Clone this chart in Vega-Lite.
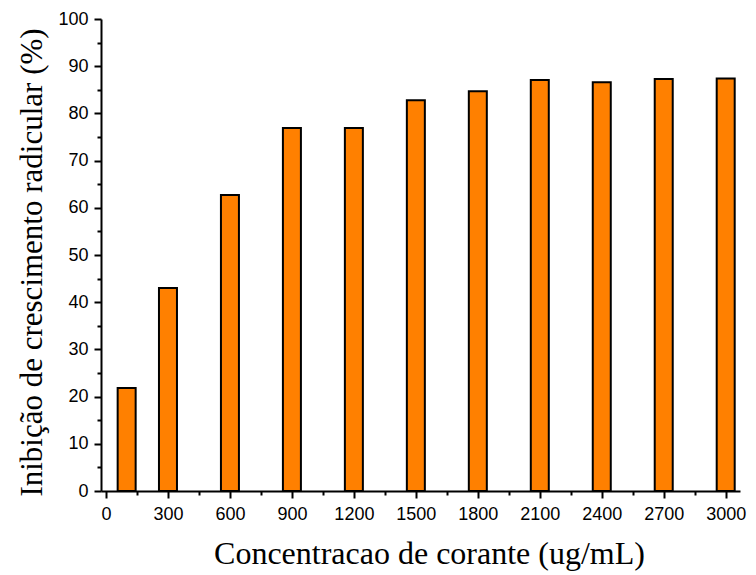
{
  "$schema": "https://vega.github.io/schema/vega-lite/v6.json",
  "width": 639,
  "height": 472,
  "autosize": "none",
  "padding": {"left": 101, "top": 19, "right": 16, "bottom": 84},
  "background": "white",
  "config": {"view": {"stroke": null}},
  "data": {"values": [
    {"conc": 100, "inib": 21.8},
    {"conc": 300, "inib": 43.0},
    {"conc": 600, "inib": 62.7},
    {"conc": 900, "inib": 76.9},
    {"conc": 1200, "inib": 76.9},
    {"conc": 1500, "inib": 82.8},
    {"conc": 1800, "inib": 84.7},
    {"conc": 2100, "inib": 87.1},
    {"conc": 2400, "inib": 86.6},
    {"conc": 2700, "inib": 87.3},
    {"conc": 3000, "inib": 87.4}
  ]},
  "resolve": {"axis": {"x": "independent", "y": "independent"}},
  "layer": [
    {
      "mark": {"type": "bar", "width": 18, "color": "#FF8000", "stroke": "black", "strokeWidth": 2},
      "encoding": {
        "x": {"field": "conc", "type": "quantitative",
          "scale": {"domain": [0, 3045], "nice": false, "zero": true},
          "axis": {"orient": "bottom", "values": [0,300,600,900,1200,1500,1800,2100,2400,2700,3000], "format": "d",
            "title": "Concentracao de corante (ug/mL)", "titleFont": "Liberation Serif", "titleFontSize": 32,
            "titleFontWeight": "normal", "titleColor": "black", "titlePadding": 15, "titleX": 328,
            "labelFont": "Liberation Sans", "labelFontSize": 18, "labelColor": "black", "labelPadding": 7,
            "domainColor": "black", "domainWidth": 2, "tickColor": "black", "tickWidth": 2, "tickSize": 7,
            "grid": false, "labelFlush": false, "labelOverlap": false}},
        "y": {"field": "inib", "type": "quantitative",
          "scale": {"domain": [0, 100], "nice": false},
          "axis": {"orient": "left", "values": [0,10,20,30,40,50,60,70,80,90,100], "format": "d",
            "title": "Inibição de crescimento radicular (%)", "titleFont": "Liberation Serif", "titleFontSize": 31,
            "titleFontWeight": "normal", "titleColor": "black", "titlePadding": 9, "titleY": 243,
            "labelFont": "Liberation Sans", "labelFontSize": 18, "labelColor": "black", "labelPadding": 6,
            "domainColor": "black", "domainWidth": 2, "tickColor": "black", "tickWidth": 2, "tickSize": 7,
            "grid": false, "labelFlush": false, "labelOverlap": false}}
      }
    },
    {
      "mark": {"type": "point", "opacity": 0},
      "encoding": {
        "x": {"field": "conc", "type": "quantitative",
          "scale": {"domain": [0, 3045], "nice": false, "zero": true},
          "axis": {"orient": "bottom", "values": [150,450,750,1050,1350,1650,1950,2250,2550,2850],
            "labels": false, "title": null, "domain": false, "tickColor": "black", "tickWidth": 2, "tickSize": 4, "grid": false}},
        "y": {"field": "inib", "type": "quantitative",
          "scale": {"domain": [0, 100], "nice": false},
          "axis": {"orient": "left", "values": [5,15,25,35,45,55,65,75,85,95],
            "labels": false, "title": null, "domain": false, "tickColor": "black", "tickWidth": 2, "tickSize": 4, "grid": false}}
      }
    }
  ]
}
